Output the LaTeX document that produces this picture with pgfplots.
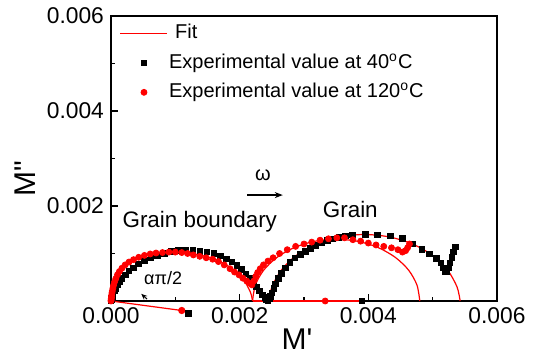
\documentclass[border=0pt]{standalone}
\usepackage{pgfplots}
\pgfplotsset{compat=1.18}
\usepackage{fontspec}
\setmainfont{Liberation Sans}
\newfontfamily\rawfont{Liberation Sans}
\usetikzlibrary{arrows.meta}
\pgfplotsset{
  fitleg/.style={legend image code/.code={\draw[##1] (0pt,0pt) -- (23.5pt,0pt);}},
  markleg/.style={legend image code/.code={\draw[##1] plot coordinates {(11.75pt,0pt)};}},
}
\begin{document}
\begin{tikzpicture}
\begin{axis}[
  scale only axis, width=193pt, height=142.5pt,
  xmin=0, xmax=6, ymin=0, ymax=6,
  clip=false,
  axis line style={line width=0.9pt},
  xtick={0,2,4,6}, xticklabels={0.000,0.002,0.004,0.006},
  minor xtick={1,3,5},
  ytick={2,4,6}, yticklabels={0.002,0.004,0.006},
  minor ytick={1,3,5},
  xtick pos=bottom, ytick pos=left,
  tick align=inside,
  major tick length=3.5pt, minor tick length=2pt,
  every tick/.style={line width=0.7pt, black},
  tick label style={font=\fontsize{11.4}{13.7}\selectfont},
  xlabel={\rawfont M'},
  ylabel={\rawfont M"},
  label style={font=\fontsize{15}{18}\selectfont},
  xlabel style={at={(axis description cs:0.482,-0.133)}, anchor=center},
  ylabel style={at={(axis description cs:-0.223,0.43)}, anchor=center},
  legend style={at={(axis description cs:0.022,0.981)}, anchor=north west,
    draw=none, fill=none, font=\fontsize{10}{12}\selectfont,
    row sep=3.25pt, inner sep=0pt,
    nodes={inner sep=0.5pt, text height=8pt, text depth=2.5pt}},
  legend cell align=left,
]
\addlegendimage{red, line width=0.6pt, fitleg}
\addlegendimage{only marks, mark=square*, mark size=1.4pt, black, markleg}
\addlegendimage{only marks, mark=*, mark size=1.5pt, red, markleg}
\legend{\hspace{3pt}Fit, Experimental value at 40\textsuperscript{o}C, Experimental value at 120\textsuperscript{o}C}

% 40 C data
\addplot[only marks, mark=square*, mark size=1.4pt, black, forget plot] coordinates {
(0,0) (0.005,0.02) (0.01,0.05) (0.02,0.10) (0.03,0.14) (0.05,0.21) (0.07,0.27) (0.10,0.34) (0.13,0.40) (0.17,0.47) (0.22,0.55) (0.28,0.63) (0.35,0.70) (0.43,0.78) (0.52,0.85) (0.62,0.91) (0.72,0.96) (0.83,1.00) (0.94,1.04) (1.05,1.06) (1.16,1.07) (1.27,1.07) (1.38,1.05) (1.49,1.03) (1.60,1.00) (1.70,0.95) (1.79,0.89) (1.88,0.82) (1.96,0.75) (2.03,0.66) (2.10,0.57) (2.16,0.48) (2.21,0.39) (2.26,0.30) (2.31,0.21) (2.35,0.13) (2.39,0.07) (2.42,0.03) (2.44,0.01) (2.46,0.04) (2.48,0.10) (2.50,0.17) (2.53,0.26) (2.56,0.36) (2.60,0.47) (2.65,0.58) (2.71,0.70) (2.78,0.81) (2.86,0.91) (2.94,0.98) (3.02,1.05) (3.10,1.11) (3.18,1.17) (3.27,1.22) (3.36,1.27) (3.45,1.31) (3.54,1.34) (3.64,1.37) (3.75,1.39) (3.95,1.40) (4.14,1.39) (4.34,1.37) (4.53,1.32) (4.69,1.20) (4.83,1.08) (4.95,0.99) (5.06,0.90) (5.13,0.80) (5.16,0.70) (5.19,0.62) (5.22,0.62) (5.25,0.70) (5.27,0.80) (5.30,0.92) (5.32,1.03) (5.35,1.14)
};
% 120 C data
\addplot[only marks, mark=*, mark size=1.5pt, red, forget plot] coordinates {
(0,0) (0.002,0.02) (0.004,0.05) (0.007,0.08) (0.01,0.12) (0.015,0.17) (0.02,0.21) (0.03,0.27) (0.04,0.33) (0.055,0.40) (0.075,0.47) (0.10,0.55) (0.13,0.62) (0.17,0.69) (0.22,0.76) (0.28,0.82) (0.35,0.87) (0.43,0.92) (0.52,0.96) (0.61,0.99) (0.70,1.01) (0.80,1.02) (0.90,1.03) (1.00,1.03) (1.10,1.02) (1.19,1.00) (1.28,0.97) (1.38,0.94) (1.48,0.91) (1.58,0.88) (1.67,0.83) (1.76,0.76) (1.85,0.68) (1.92,0.61) (1.99,0.55) (2.05,0.48) (2.11,0.42) (2.16,0.37) (2.19,0.34) (2.22,0.42) (2.25,0.52) (2.28,0.60) (2.32,0.68) (2.37,0.76) (2.44,0.84) (2.52,0.91) (2.62,1.00) (2.74,1.08) (2.87,1.15) (3.00,1.20) (3.12,1.24) (3.25,1.28) (3.38,1.31) (3.51,1.33) (3.63,1.33) (3.76,1.29) (3.88,1.26) (4.00,1.22) (4.12,1.18) (4.24,1.15) (4.36,1.12) (4.46,1.08) (4.53,1.03) (4.58,1.06) (4.61,1.12) (4.64,1.20)
};
% fits
\addplot[red, line width=0.6pt, smooth, forget plot] coordinates {
(0,0) (0.033,0.186) (0.143,0.452) (0.319,0.681) (0.548,0.857) (0.814,0.967) (1.1,1.0045) (1.386,0.967) (1.652,0.857) (1.881,0.681) (2.057,0.452) (2.167,0.186) (2.2,0)
};
\addplot[red, line width=0.6pt, smooth, forget plot] coordinates {
(2.2,0) (2.244,0.336) (2.374,0.65) (2.581,0.919) (2.85,1.126) (3.164,1.256) (3.5,1.3) (3.836,1.256) (4.15,1.126) (4.419,0.919) (4.626,0.65) (4.756,0.336) (4.8,0)
};
\addplot[red, line width=0.6pt, smooth, forget plot] coordinates {
(2.453,0) (2.501,0.296) (2.650,0.655) (2.886,0.964) (3.195,1.200) (3.554,1.349) (3.94,1.40) (4.326,1.349) (4.685,1.200) (4.994,0.964) (5.230,0.655) (5.379,0.296) (5.427,0)
};
% centre construction lines
\addplot[red, line width=0.6pt, mark=*, mark size=1.5pt, mark indices={2}, forget plot] coordinates {(0,0) (1.1,-0.20)};
\addplot[only marks, mark=square*, mark size=1.4pt, black, forget plot] coordinates {(1.2,-0.26)};
\addplot[red, line width=0.6pt, forget plot] coordinates {(2.2,0) (3.9,0)};
\addplot[only marks, mark=*, mark size=1.5pt, red, forget plot] coordinates {(3.33,0)};
\addplot[only marks, mark=square*, mark size=1.4pt, black, forget plot] coordinates {(3.9,0)};

% annotations
\node[font=\fontsize{11.2}{13}\selectfont] at (axis cs:1.38,1.66) {Grain boundary};
\node[font=\fontsize{11.2}{13}\selectfont] at (axis cs:3.72,1.92) {Grain};
\node[font=\fontsize{10}{12}\selectfont] at (axis cs:2.36,2.65) {ω};
\draw[line width=0.6pt, -{Stealth[length=4pt,width=3pt]}] (axis cs:2.12,2.23) -- (axis cs:2.67,2.23);
\node[font=\fontsize{9}{11}\selectfont] at (axis cs:0.81,0.48) {απ/2};
\draw[line width=0.5pt, -{Stealth[length=3pt,width=2.5pt]}] (axis cs:0.56,0.04) -- (axis cs:0.47,0.15);
\end{axis}
\pgfresetboundingbox
\path ([shift={(-55.5pt,-27.5pt)}]current axis.south west) rectangle ([shift={(23.5pt,8pt)}]current axis.north east);
\end{tikzpicture}
\end{document}
